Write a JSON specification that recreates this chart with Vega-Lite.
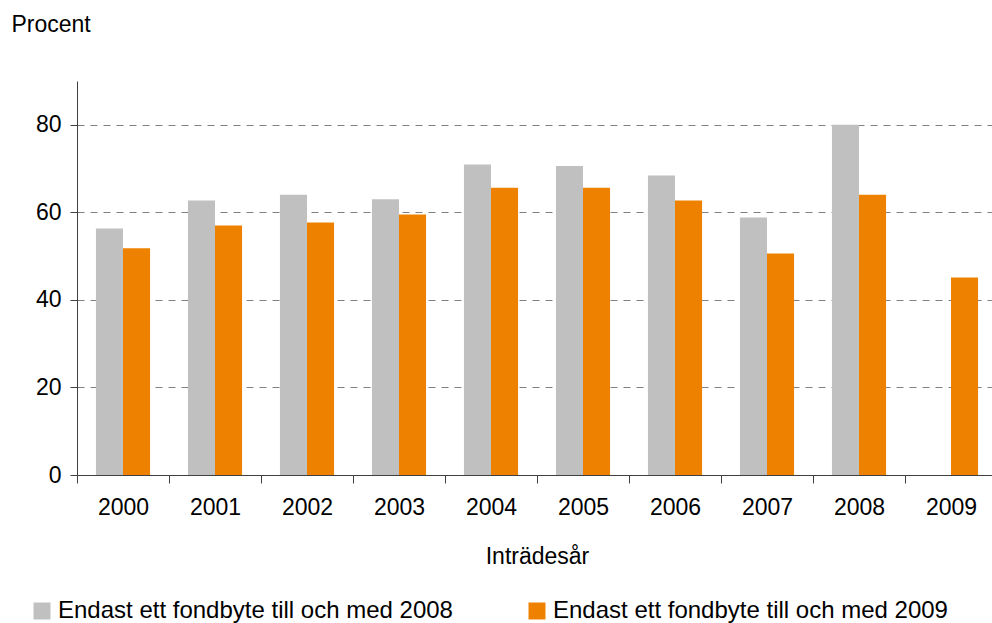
{
  "$schema": "https://vega.github.io/schema/vega-lite/v6.json",
  "width": 920,
  "height": 394,
  "autosize": "none",
  "padding": {"left": 77, "top": 81, "right": 0, "bottom": 148},
  "config": {
    "font": "Liberation Sans",
    "view": {"stroke": null},
    "axis": {"labelFont": "Liberation Sans", "titleFont": "Liberation Sans"}
  },
  "data": {
    "values": [
      {"year": "2000", "series": "Endast ett fondbyte till och med 2008", "value": 56.3},
      {"year": "2000", "series": "Endast ett fondbyte till och med 2009", "value": 51.8},
      {"year": "2001", "series": "Endast ett fondbyte till och med 2008", "value": 62.7},
      {"year": "2001", "series": "Endast ett fondbyte till och med 2009", "value": 57.0},
      {"year": "2002", "series": "Endast ett fondbyte till och med 2008", "value": 64.0},
      {"year": "2002", "series": "Endast ett fondbyte till och med 2009", "value": 57.7},
      {"year": "2003", "series": "Endast ett fondbyte till och med 2008", "value": 63.0},
      {"year": "2003", "series": "Endast ett fondbyte till och med 2009", "value": 59.5},
      {"year": "2004", "series": "Endast ett fondbyte till och med 2008", "value": 70.9},
      {"year": "2004", "series": "Endast ett fondbyte till och med 2009", "value": 65.6},
      {"year": "2005", "series": "Endast ett fondbyte till och med 2008", "value": 70.6},
      {"year": "2005", "series": "Endast ett fondbyte till och med 2009", "value": 65.6},
      {"year": "2006", "series": "Endast ett fondbyte till och med 2008", "value": 68.4},
      {"year": "2006", "series": "Endast ett fondbyte till och med 2009", "value": 62.7},
      {"year": "2007", "series": "Endast ett fondbyte till och med 2008", "value": 58.8},
      {"year": "2007", "series": "Endast ett fondbyte till och med 2009", "value": 50.6},
      {"year": "2008", "series": "Endast ett fondbyte till och med 2008", "value": 80.0},
      {"year": "2008", "series": "Endast ett fondbyte till och med 2009", "value": 64.0},
      {"year": "2009", "series": "Endast ett fondbyte till och med 2009", "value": 45.1}
    ]
  },
  "mark": {"type": "bar"},
  "encoding": {
    "x": {
      "field": "year",
      "type": "nominal",
      "scale": {"paddingInner": 0, "paddingOuter": 0},
      "axis": {
        "title": "Inträdesår",
        "titleFontSize": 23,
        "titleFontWeight": "normal",
        "titleColor": "#000000",
        "titleY": 81,
        "titleBaseline": "middle",
        "labelAngle": 0,
        "labelFontSize": 23,
        "labelColor": "#000000",
        "labelPadding": 13,
        "tickBand": "extent",
        "tickSize": 8,
        "tickColor": "#404040",
        "domainColor": "#404040",
        "grid": false
      }
    },
    "xOffset": {
      "field": "series",
      "type": "nominal",
      "scale": {"paddingOuter": 0.7, "paddingInner": 0}
    },
    "y": {
      "field": "value",
      "type": "quantitative",
      "scale": {"domain": [0, 90], "nice": false},
      "axis": {
        "values": [0, 20, 40, 60, 80],
        "title": "Procent",
        "titleAngle": 0,
        "titleAlign": "left",
        "titleBaseline": "middle",
        "titleX": -66,
        "titleY": -57,
        "titleFontSize": 23,
        "titleFontWeight": "normal",
        "titleColor": "#000000",
        "labelFontSize": 23,
        "labelColor": "#000000",
        "labelPadding": 9,
        "tickSize": 7,
        "tickColor": "#404040",
        "domainColor": "#404040",
        "grid": true,
        "gridColor": "#808080",
        "gridDash": [7, 6],
        "gridWidth": 1
      }
    },
    "color": {
      "field": "series",
      "type": "nominal",
      "scale": {
        "domain": ["Endast ett fondbyte till och med 2008", "Endast ett fondbyte till och med 2009"],
        "range": ["#C0C0C0", "#EE8200"]
      },
      "legend": {
        "title": null,
        "orient": "none",
        "legendX": -47,
        "legendY": 518,
        "direction": "horizontal",
        "columns": 2,
        "columnPadding": 72,
        "symbolType": "square",
        "symbolSize": 289,
        "symbolStrokeWidth": 0,
        "symbolOpacity": 1,
        "labelFontSize": 24,
        "labelColor": "#000000",
        "labelLimit": 600,
        "labelOffset": 4
      }
    }
  }
}
